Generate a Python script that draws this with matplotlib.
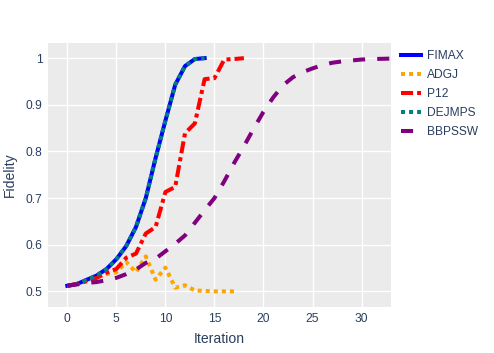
import matplotlib
matplotlib.use("Agg")
import matplotlib.pyplot as plt

plt.rcParams['font.family'] = ['Liberation Sans', 'DejaVu Sans']

# Data
fimax_x = list(range(0, 15))
fimax_y = [0.512, 0.516, 0.525, 0.534, 0.548, 0.569, 0.597, 0.638, 0.700, 0.786,
           0.866, 0.943, 0.983, 0.998, 1.000]

adgj_x = list(range(0, 18))
adgj_y = [0.512, 0.516, 0.522, 0.530, 0.537, 0.541, 0.563, 0.541, 0.575, 0.525,
          0.551, 0.508, 0.513, 0.502, 0.501, 0.500, 0.500, 0.500]

p12_x = list(range(0, 19))
p12_y = [0.512, 0.516, 0.522, 0.529, 0.540, 0.548, 0.572, 0.581, 0.624, 0.638,
         0.713, 0.724, 0.839, 0.860, 0.955, 0.957, 0.997, 0.998, 1.000]

dejmps_x = fimax_x
dejmps_y = fimax_y

bbpssw_x = list(range(0, 41))
bbpssw_y = [0.512, 0.515, 0.518, 0.520, 0.524, 0.529, 0.537, 0.547, 0.561, 0.570,
            0.586, 0.602, 0.620, 0.647, 0.674, 0.700, 0.736, 0.775, 0.811, 0.849,
            0.885, 0.916, 0.942, 0.959, 0.970, 0.978, 0.985, 0.990, 0.993, 0.995,
            0.997, 0.998, 0.9985, 0.999, 0.9993, 0.9995, 0.9996, 0.9997, 0.9998,
            0.9999, 1.000]

names = ["FIMAX", "ADGJ", "P12", "DEJMPS", "BBPSSW"]
colors = ["blue", "orange", "red", "teal", "purple"]

text_color = '#2a3f5f'
fig = plt.figure(figsize=(4.94, 3.53), dpi=100)
ax = fig.add_axes([48/494, 1-307/353, (391-48)/494, (307-42.5)/353])
ax.set_facecolor('#EBEBEB')
for s in ax.spines.values():
    s.set_visible(False)

lw = 2.9
series = [(fimax_x, fimax_y, '-'),
          (adgj_x, adgj_y, (0, (1, 1))),
          (p12_x, p12_y, (0, (3, 1, 1, 1))),
          (dejmps_x, dejmps_y, (0, (1, 1))),
          (bbpssw_x, bbpssw_y, (0, (3, 3)))]
for (x, y, ls), n, c in zip(series, names, colors):
    ax.plot(x, y, color=c, lw=lw, linestyle=ls, label=n, dash_capstyle='butt',
            solid_joinstyle='round')

ax.set_xlim(-1.97, 33.0)
ax.set_ylim(0.4665, 1.0335)
ax.set_xticks([0, 5, 10, 15, 20, 25, 30])
ax.set_yticks([0.5, 0.6, 0.7, 0.8, 0.9, 1.0])
ax.set_yticklabels(['0.5', '0.6', '0.7', '0.8', '0.9', '1'])
ax.grid(True, color='white', lw=1.0)
ax.set_axisbelow(True)
ax.tick_params(length=0, pad=4, labelsize=8.64, colors=text_color)

ax.set_xlabel('Iteration', fontsize=10.08, color=text_color)
ax.set_ylabel('Fidelity', fontsize=10.08, color=text_color)
ax.xaxis.set_label_coords(0.5, -(339-307)/264.5, transform=ax.transAxes)
ax.yaxis.set_label_coords(-(48-9.5)/343, 0.5, transform=ax.transAxes)
ax.xaxis.label.set_va('center')
ax.yaxis.label.set_va('center')

leg = ax.legend(loc='upper left', bbox_to_anchor=(401/494, 1-50/353),
                bbox_transform=fig.transFigure, frameon=False,
                fontsize=8.64, handlelength=1.65, handletextpad=0.5,
                labelspacing=0.58, borderaxespad=0, borderpad=0)
for t in leg.get_texts():
    t.set_color(text_color)

fig.savefig('out.png', dpi=100)
